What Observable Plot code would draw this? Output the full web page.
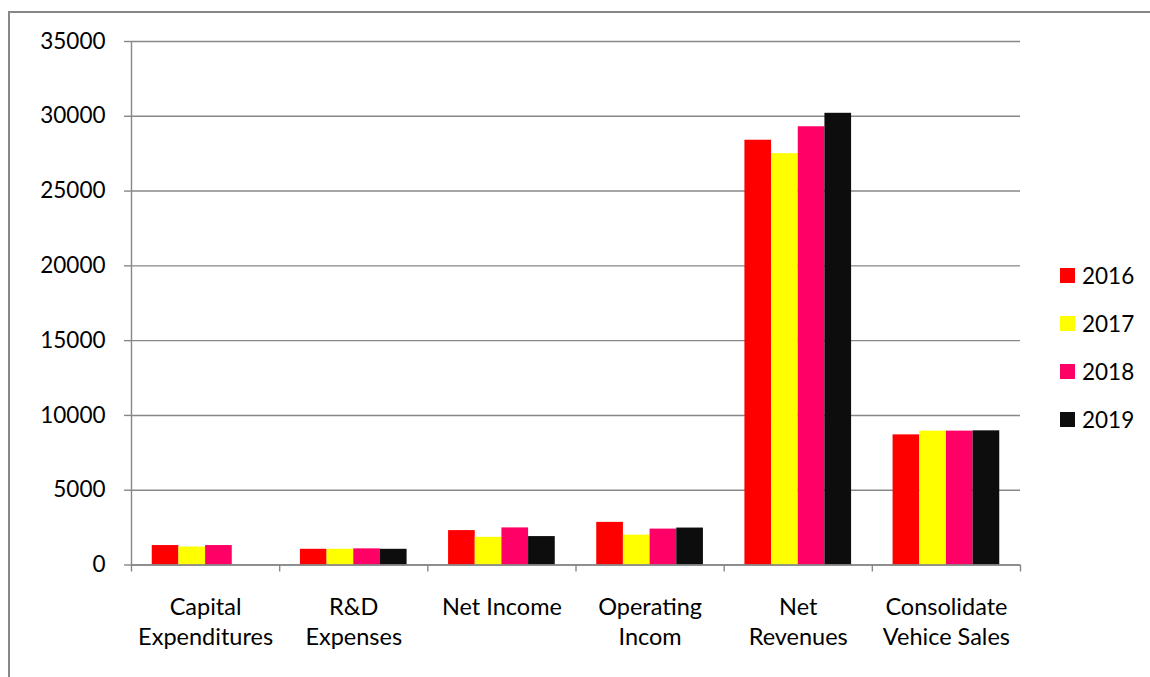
<!DOCTYPE html>
<html><head><meta charset="utf-8">
<script src="https://cdn.jsdelivr.net/npm/d3@7"></script>
<script src="https://cdn.jsdelivr.net/npm/@observablehq/plot@0.6"></script>
<style>
body{margin:0;background:#fff;}
#wrap{position:relative;width:1150px;height:677px;overflow:hidden;font-family:Lato, "Open Sans", sans-serif;}
#border{position:absolute;left:8px;top:11px;width:1300px;height:900px;border:2px solid #878787;box-sizing:border-box;}
#chart{position:absolute;left:0;top:0;}
#legend{position:absolute;left:1060px;top:251px;}
.row{display:flex;align-items:center;height:48px;font-size:22.5px;color:#000;}
.sw{width:15px;height:15px;margin-right:7px;}
</style></head>
<body>
<div id="wrap"><div id="border"></div><div id="chart"></div><div id="legend"></div></div>
<script>
const categories = ["Capital\nExpenditures","R&D\nExpenses","Net Income","Operating\nIncom","Net\nRevenues","Consolidate\nVehice Sales"];
const years = ["2016","2017","2018","2019"];
const colors = ["#FF0000","#FFFF00","#FF0066","#0D0D0D"];
const v2016 = [1300, 1050, 2300, 2850, 28400, 8700];
const v2017 = [1200, 1050, 1850, 2000, 27500, 8950];
const v2018 = [1300, 1080, 2480, 2400, 29300, 8950];
const v2019 = [null, 1050, 1900, 2470, 30200, 8970];
const yTicks = [0,5000,10000,15000,20000,25000,30000,35000];

const series = [v2016, v2017, v2018, v2019];
const data = [];
categories.forEach((c, i) => years.forEach((y, j) => {
  const v = series[j][i];
  if (v != null) data.push({cat: c, i, year: y, j, value: v});
}));
const pad = 0.14, bw = 0.18;
const gray = "#878787";

const chart = Plot.plot({
  width: 1150, height: 677,
  marginLeft: 131, marginRight: 130, marginTop: 41, marginBottom: 112.5,
  style: {fontFamily: "Lato, 'Open Sans', sans-serif", fontSize: "22.5px", color: "#000", background: "transparent"},
  x: {domain: [0, categories.length], label: null, axis: null},
  y: {domain: [0, 35000], label: null, axis: null},
  color: {domain: years, range: colors},
  marks: [
    Plot.gridY(yTicks, {stroke: gray, strokeOpacity: 1, strokeWidth: 1.4}),
    Plot.axisY(yTicks, {tickSize: 7, tickPadding: 19, tickFormat: d3.format("d"), fontSize: 22.5, stroke: gray, strokeWidth: 1.4, label: null}),
    Plot.axisX(d3.range(categories.length + 1), {tickSize: 7, tickFormat: () => "", stroke: gray, strokeWidth: 1.4, label: null}),
    Plot.axisX(categories.map((c, i) => i + 0.5), {tickSize: 0, tickPadding: 29, tickFormat: d => categories[Math.floor(d)], fontSize: 23.5, lineHeight: 1.28, label: null}),
    Plot.rectY(data, {x1: d => d.i + pad + d.j * bw, x2: d => d.i + pad + (d.j + 1) * bw, y: "value", fill: "year"}),
    Plot.ruleX([0], {stroke: gray, strokeWidth: 1.4}),
    Plot.ruleY([0], {stroke: gray, strokeWidth: 1.4})
  ]
});
document.getElementById("chart").append(chart);

const legend = d3.select("#legend");
years.forEach((y, j) => {
  const r = legend.append("div").attr("class", "row");
  r.append("div").attr("class", "sw").style("background", colors[j]);
  r.append("span").text(y);
});
</script>
</body></html>
